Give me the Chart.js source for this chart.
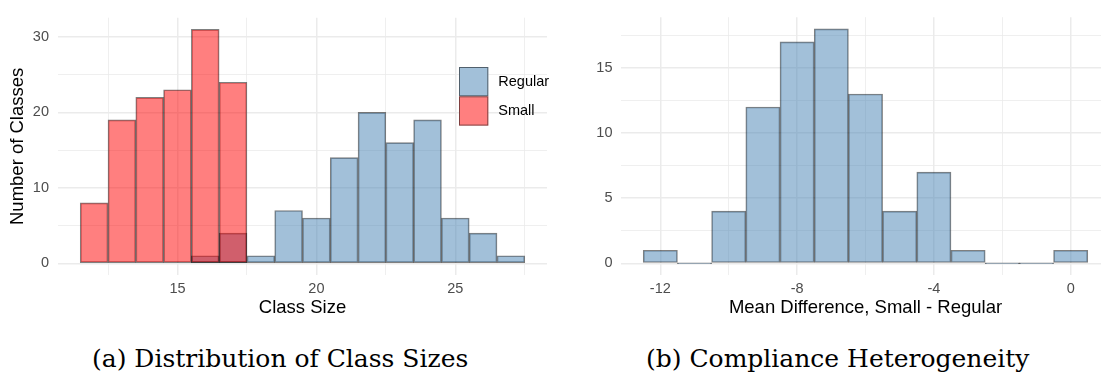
<!DOCTYPE html>
<html>
<head>
<meta charset="utf-8">
<script src="https://cdn.jsdelivr.net/npm/chart.js@4.4.0/dist/chart.umd.min.js"></script>
<style>
  html, body { margin: 0; padding: 0; background: #fff; width: 1101px; height: 375px; overflow: hidden; position: relative; }
  .plot { position: absolute; top: 0; height: 319px; }
  #left { left: 0; width: 550px; }
  #right { left: 581px; width: 529px; }
  .caption { position: absolute; top: 343.5px; font-family: "DejaVu Serif", serif; font-size: 25px; color: #000; white-space: nowrap; }
  #capA { left: 92px; }
  #capB { left: 646px; }
</style>
</head>
<body>
<div class="plot" id="left"><canvas id="classChart"></canvas></div>
<div class="plot" id="right"><canvas id="diffChart"></canvas></div>
<div class="caption" id="capA">(a) Distribution of Class Sizes</div>
<div class="caption" id="capB">(b) Compliance Heterogeneity</div>
<script>
'use strict';

// class size histogram (bins of width 1, centred on integers)
var smallSizes = [12, 13, 14, 15, 16, 17];
var smallCounts = [8, 19, 22, 23, 31, 24];
var regularSizes = [16, 17, 18, 19, 20, 21, 22, 23, 24, 25, 26, 27];
var regularCounts = [1, 4, 1, 7, 6, 14, 20, 16, 19, 6, 4, 1];

// mean difference histogram
var diffValues = [-12, -11, -10, -9, -8, -7, -6, -5, -4, -3, -2, -1, 0];
var diffCounts = [1, 0, 4, 12, 17, 18, 13, 4, 7, 1, 0, 0, 1];

// tick labels (major) and minor grid positions
var classTicks = [15, 20, 25];
var classMinor = [12.5, 17.5, 22.5, 27.5];
var classCountTicks = [0, 10, 20, 30];
var classCountMinor = [5, 15, 25];
var diffTicks = [-12, -8, -4, 0];
var diffMinor = [-10, -6, -2];
var diffCountTicks = [0, 5, 10, 15];
var diffCountMinor = [2.5, 7.5, 12.5, 17.5];

var legendLabels = ['Regular', 'Small'];

var regularFill = 'rgba(70, 130, 180, 0.5)';
var smallFill = 'rgba(255, 0, 0, 0.5)';
var barBorder = 'rgba(0, 0, 0, 0.5)';
var gridColor = '#EBEBEB';
var sans = '"Liberation Sans", Arial, sans-serif';

function points(xs, ys) {
  return xs.map(function (x, i) { return { x: x, y: ys[i] }; });
}

function setTicks(major, minor) {
  return function (scale) {
    scale.ticks = major.concat(minor).sort(function (a, b) { return a - b; }).map(function (v) {
      return { value: v, isMajor: major.indexOf(v) >= 0 };
    });
  };
}

function axis(opts) {
  return {
    type: 'linear',
    min: opts.min,
    max: opts.max,
    offset: false,
    afterBuildTicks: setTicks(opts.major, opts.minor),
    afterFit: opts.fit,
    border: { display: false },
    grid: {
      offset: false,
      drawTicks: false,
      color: gridColor,
      lineWidth: function (c) { return c.tick && c.tick.isMajor ? 1.5 : 0.8; }
    },
    ticks: {
      autoSkip: false,
      maxRotation: 0,
      padding: opts.pad,
      color: '#4D4D4D',
      font: { family: sans, size: 14.5 },
      callback: function (value, index, ticks) {
        return ticks[index].isMajor ? String(value) : '';
      }
    },
    title: { display: !!opts.title, text: opts.title || '', color: '#000',
      font: { family: sans, size: 18.5 }, padding: opts.titlePad || 0 }
  };
}

// legend drawn inside the panel, like the original
var insideLegend = {
  id: 'insideLegend',
  afterDatasetsDraw: function (chart) {
    var ctx = chart.ctx;
    var area = chart.chartArea;
    var size = 29.3;
    var x = area.right - 88;
    var y = area.top + 49.3;
    var fills = [regularFill, smallFill];
    ctx.save();
    legendLabels.forEach(function (label, i) {
      var top = y + i * size;
      ctx.fillStyle = '#fff';
      ctx.fillRect(x, top, size, size);
      ctx.fillStyle = fills[i];
      ctx.fillRect(x, top, size, size);
      ctx.strokeStyle = barBorder;
      ctx.lineWidth = 1;
      ctx.strokeRect(x + 0.5, top + 0.5, size - 1, size - 1);
      ctx.fillStyle = '#000';
      ctx.font = '14.5px ' + sans;
      ctx.textBaseline = 'middle';
      ctx.fillText(label, x + size + 10, top + size / 2 + 0.5);
    });
    ctx.restore();
  }
};

var common = {
  responsive: true,
  maintainAspectRatio: false,
  animation: false,
  events: [],
  plugins: { legend: { display: false }, tooltip: { enabled: false } }
};

new Chart(document.getElementById('classChart'), {
  type: 'bar',
  data: {
    datasets: [{
      label: 'Small',
      data: points(smallSizes, smallCounts),
      backgroundColor: smallFill,
      borderColor: barBorder,
      borderWidth: 1,
      borderSkipped: false,
      grouped: false,
      barPercentage: 1,
      categoryPercentage: 1
    }, {
      label: 'Regular',
      data: points(regularSizes, regularCounts),
      backgroundColor: regularFill,
      borderColor: barBorder,
      borderWidth: 1,
      borderSkipped: false,
      grouped: false,
      barPercentage: 1,
      categoryPercentage: 1
    }]
  },
  options: Object.assign({}, common, {
    layout: { padding: { top: 13.4, right: 3, left: 0, bottom: 0 } },
    scales: {
      x: axis({ min: 10.7, max: 28.3, major: classTicks, minor: classMinor, pad: 5.3,
        title: 'Class Size', fit: function (s) { s.height = 44; } }),
      y: axis({ min: -1.55, max: 32.55, major: classCountTicks, minor: classCountMinor, pad: 9,
        title: 'Number of Classes', titlePad: { top: 7 }, fit: function (s) { s.width = 58; } })
    }
  }),
  plugins: [insideLegend]
});

new Chart(document.getElementById('diffChart'), {
  type: 'bar',
  data: {
    datasets: [{
      label: 'Mean Difference',
      data: points(diffValues, diffCounts),
      backgroundColor: regularFill,
      borderColor: barBorder,
      borderWidth: 1,
      borderSkipped: false,
      minBarLength: 1,
      barPercentage: 1,
      categoryPercentage: 1
    }]
  },
  options: Object.assign({}, common, {
    layout: { padding: { top: 13.4, right: 0, left: 0, bottom: 0 } },
    scales: {
      x: axis({ min: -13.15, max: 1.15, major: diffTicks, minor: diffMinor, pad: 5.3,
        title: 'Mean Difference, Small - Regular', fit: function (s) { s.height = 44; } }),
      y: axis({ min: -0.9, max: 18.9, major: diffCountTicks, minor: diffCountMinor, pad: 8.5,
        fit: function (s) { s.width = 40; } })
    }
  })
});
</script>
</body>
</html>
